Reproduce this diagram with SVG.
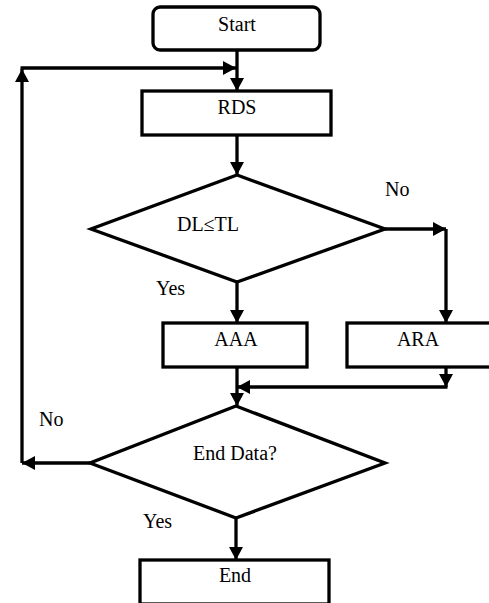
<svg xmlns="http://www.w3.org/2000/svg" width="489" height="603" viewBox="0 0 489 603">
<style>
.s{fill:#fff;stroke:#000;stroke-width:3.3}
.c{fill:none;stroke:#000;stroke-width:3.3}
text{font-family:'Liberation Serif','Times New Roman','DejaVu Serif',serif;font-size:20px;fill:#000}
.m{text-anchor:middle}
</style>
<defs>
<marker id="a" markerUnits="userSpaceOnUse" markerWidth="14" markerHeight="14" refX="13" refY="7" orient="auto">
<polygon points="0,0 13,7 0,14" fill="#000"/>
</marker>
</defs>
<rect width="489" height="603" fill="#fff"/>
<g id="connectors">
<line class="c" x1="237" y1="50" x2="237" y2="91" marker-end="url(#a)"/>
<line class="c" x1="90" y1="463" x2="22" y2="463" marker-end="url(#a)"/>
<line class="c" x1="22" y1="463" x2="22" y2="69" marker-end="url(#a)"/>
<line class="c" x1="20.5" y1="68" x2="236" y2="68" marker-end="url(#a)"/>
<line class="c" x1="237" y1="135" x2="237" y2="175" marker-end="url(#a)"/>
<line class="c" x1="385" y1="229" x2="446" y2="229" marker-end="url(#a)"/>
<line class="c" x1="446" y1="229" x2="446" y2="323" marker-end="url(#a)"/>
<line class="c" x1="237" y1="282" x2="237" y2="323" marker-end="url(#a)"/>
<line class="c" x1="446" y1="367" x2="446" y2="387" marker-end="url(#a)"/>
<line class="c" x1="447.5" y1="387" x2="237" y2="387" marker-end="url(#a)"/>
<line class="c" x1="237" y1="367" x2="237" y2="406" marker-end="url(#a)"/>
<line class="c" x1="236" y1="518" x2="236" y2="560" marker-end="url(#a)"/>
</g>
<g id="start">
<rect class="s" x="153" y="7" width="167" height="43" rx="7"/>
<text class="m" x="237" y="31">Start</text>
</g>
<g id="rds">
<rect class="s" x="142" y="91" width="189" height="44"/>
<text class="m" x="237" y="114">RDS</text>
</g>
<g id="d1">
<polygon class="s" points="237,175 385,229 237,282 91,229"/>
<text class="m" x="208" y="231">DL≤TL</text>
</g>
<g id="aaa">
<rect class="s" x="163" y="323" width="144" height="44"/>
<text class="m" x="236" y="346">AAA</text>
</g>
<g id="ara">
<rect class="s" x="347" y="323" width="145" height="44"/>
<text class="m" x="418" y="346">ARA</text>
</g>
<g id="d2">
<polygon class="s" points="236,406 385,463 236,518 90,463"/>
<text class="m" x="235" y="460">End Data?</text>
</g>
<g id="end">
<rect class="s" x="140" y="560" width="189" height="44"/>
<text class="m" x="235" y="582">End</text>
</g>
<g id="labels">
<text x="385" y="196">No</text>
<text x="156" y="295">Yes</text>
<text x="39" y="426">No</text>
<text x="143" y="528">Yes</text>
</g>
</svg>
